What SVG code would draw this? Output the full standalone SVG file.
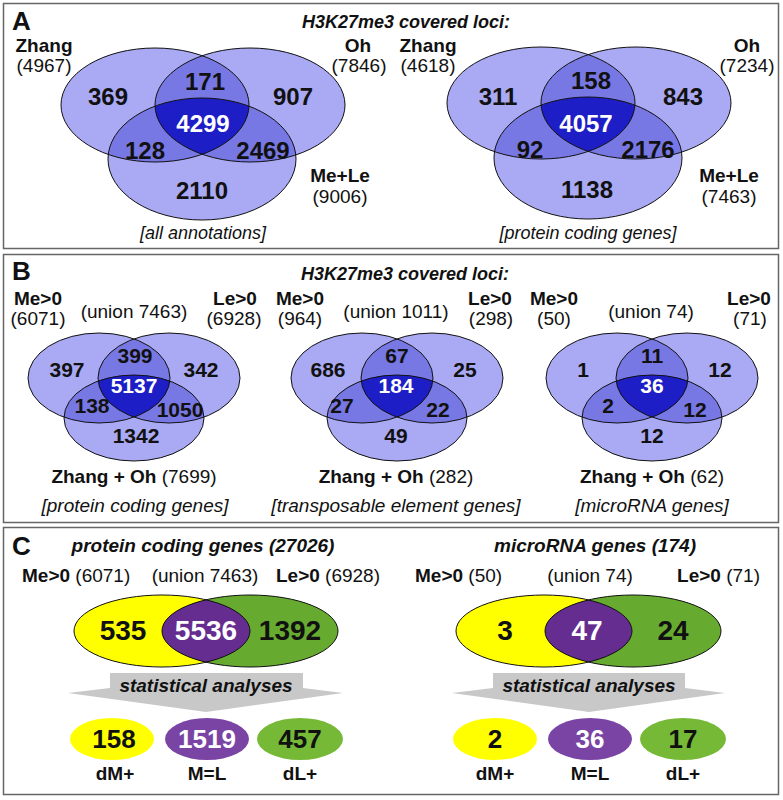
<svg xmlns="http://www.w3.org/2000/svg" width="783" height="800" viewBox="0 0 783 800">
<style>
text{font-family:"Liberation Sans",Arial,sans-serif;fill:#111}
.pl{font-size:26px;font-weight:bold}
.hd{font-size:18px;font-weight:bold;font-style:italic}
.lb{font-size:19px;font-weight:bold}
.rg{font-size:19px;font-weight:normal}
.it{font-size:18px;font-style:italic}
.n24{font-size:24px;font-weight:bold;text-anchor:middle}
.n21{font-size:21px;font-weight:bold;text-anchor:middle}
.n28{font-size:28px;font-weight:bold;text-anchor:middle}
.n26{font-size:26px;font-weight:bold;text-anchor:middle}
.m{text-anchor:middle}
.e{text-anchor:end}
.w{fill:#fff}
.s1{fill:#aaaaf4}
.s2{fill:#7878e4}
.s3{fill:#1e1ec6}
.ol{fill:none;stroke:#111;stroke-width:1}
.frame{fill:#fff;stroke:#666;stroke-width:1.5}
.arrow{fill:#c8c8c8}
</style>
<defs>
<ellipse id="a1z" cx="155" cy="105" rx="94" ry="57"/>
<ellipse id="a1o" cx="250" cy="105" rx="95" ry="57"/>
<ellipse id="a1m" cx="202" cy="159" rx="94" ry="61"/>
<ellipse id="a2z" cx="541" cy="103" rx="94" ry="56"/>
<ellipse id="a2o" cx="636" cy="103" rx="95" ry="56"/>
<ellipse id="a2m" cx="588" cy="158" rx="94" ry="61"/>
<ellipse id="b1m" cx="99" cy="378" rx="71" ry="45"/>
<ellipse id="b1l" cx="169" cy="378" rx="71" ry="45"/>
<ellipse id="b1z" cx="134" cy="418" rx="70" ry="43"/>
<ellipse id="b2m" cx="362" cy="378" rx="71" ry="45"/>
<ellipse id="b2l" cx="432" cy="378" rx="71" ry="45"/>
<ellipse id="b2z" cx="397" cy="418" rx="70" ry="43"/>
<ellipse id="b3m" cx="617" cy="378" rx="71" ry="45"/>
<ellipse id="b3l" cx="687" cy="378" rx="71" ry="45"/>
<ellipse id="b3z" cx="652" cy="418" rx="70" ry="43"/>
<ellipse id="c1y" cx="162" cy="631" rx="88" ry="36"/>
<ellipse id="c1g" cx="250" cy="631" rx="88" ry="36"/>
<ellipse id="c2y" cx="544" cy="631" rx="88" ry="36"/>
<ellipse id="c2g" cx="633" cy="631" rx="88" ry="36"/>
<clipPath id="k_a1z"><use href="#a1z"/></clipPath>
<clipPath id="k_a1o"><use href="#a1o"/></clipPath>
<clipPath id="k_a2z"><use href="#a2z"/></clipPath>
<clipPath id="k_a2o"><use href="#a2o"/></clipPath>
<clipPath id="k_b1m"><use href="#b1m"/></clipPath>
<clipPath id="k_b1l"><use href="#b1l"/></clipPath>
<clipPath id="k_b2m"><use href="#b2m"/></clipPath>
<clipPath id="k_b2l"><use href="#b2l"/></clipPath>
<clipPath id="k_b3m"><use href="#b3m"/></clipPath>
<clipPath id="k_b3l"><use href="#b3l"/></clipPath>
<clipPath id="k_c1y"><use href="#c1y"/></clipPath>
<clipPath id="k_c2y"><use href="#c2y"/></clipPath>
</defs>

<rect x="0" y="0" width="783" height="800" fill="#fff"/>
<g id="frames">
<rect class="frame" x="3.5" y="3.5" width="775" height="245"/>
<rect class="frame" x="3.5" y="254.5" width="775" height="268"/>
<rect class="frame" x="3.5" y="527.5" width="775" height="267"/>
</g>

<!-- Panel A -->
<g id="panelA-labels">
<text class="pl" x="12" y="30">A</text>
<text class="hd m" x="406" y="28">H3K27me3 covered loci:</text>
</g>
<g id="vennA1">
<use href="#a1z" class="s1"/><use href="#a1o" class="s1"/><use href="#a1m" class="s1"/>
<use href="#a1o" class="s2" clip-path="url(#k_a1z)"/>
<use href="#a1m" class="s2" clip-path="url(#k_a1z)"/>
<use href="#a1m" class="s2" clip-path="url(#k_a1o)"/>
<g clip-path="url(#k_a1z)"><use href="#a1m" class="s3" clip-path="url(#k_a1o)"/></g>
<use href="#a1z" class="ol"/><use href="#a1o" class="ol"/><use href="#a1m" class="ol"/>
<text class="n24" x="108" y="105">369</text>
<text class="n24" x="205" y="90">171</text>
<text class="n24" x="293" y="105">907</text>
<text class="n24 w" x="203" y="132">4299</text>
<text class="n24" x="145" y="159">128</text>
<text class="n24" x="263" y="159">2469</text>
<text class="n24" x="202" y="199">2110</text>
<text class="lb m" x="44" y="52">Zhang</text>
<text class="rg m" x="44" y="72">(4967)</text>
<text class="lb m" x="358" y="52">Oh</text>
<text class="rg m" x="359" y="72">(7846)</text>
<text class="lb m" x="340" y="182">Me+Le</text>
<text class="rg m" x="340" y="203">(9006)</text>
<text class="it m" x="203" y="239">[all annotations]</text>
</g>
<g id="vennA2">
<use href="#a2z" class="s1"/><use href="#a2o" class="s1"/><use href="#a2m" class="s1"/>
<use href="#a2o" class="s2" clip-path="url(#k_a2z)"/>
<use href="#a2m" class="s2" clip-path="url(#k_a2z)"/>
<use href="#a2m" class="s2" clip-path="url(#k_a2o)"/>
<g clip-path="url(#k_a2z)"><use href="#a2m" class="s3" clip-path="url(#k_a2o)"/></g>
<use href="#a2z" class="ol"/><use href="#a2o" class="ol"/><use href="#a2m" class="ol"/>
<text class="n24" x="498" y="105">311</text>
<text class="n24" x="591" y="89">158</text>
<text class="n24" x="683" y="105">843</text>
<text class="n24 w" x="586" y="132">4057</text>
<text class="n24" x="530" y="158">92</text>
<text class="n24" x="648" y="158">2176</text>
<text class="n24" x="587" y="198">1138</text>
<text class="lb m" x="428" y="52">Zhang</text>
<text class="rg m" x="428" y="72">(4618)</text>
<text class="lb m" x="747" y="52">Oh</text>
<text class="rg m" x="747" y="72">(7234)</text>
<text class="lb m" x="729" y="182">Me+Le</text>
<text class="rg m" x="729" y="203">(7463)</text>
<text class="it m" x="588" y="239">[protein coding genes]</text>
</g>

<!-- Panel B -->
<g id="panelB-labels">
<text class="pl" x="12" y="280">B</text>
<text class="hd m" x="405" y="280">H3K27me3 covered loci:</text>
</g>
<g id="vennB1">
<use href="#b1m" class="s1"/><use href="#b1l" class="s1"/><use href="#b1z" class="s1"/>
<use href="#b1l" class="s2" clip-path="url(#k_b1m)"/>
<use href="#b1z" class="s2" clip-path="url(#k_b1m)"/>
<use href="#b1z" class="s2" clip-path="url(#k_b1l)"/>
<g clip-path="url(#k_b1m)"><use href="#b1z" class="s3" clip-path="url(#k_b1l)"/></g>
<use href="#b1m" class="ol"/><use href="#b1l" class="ol"/><use href="#b1z" class="ol"/>
<text class="n21" x="67" y="377">397</text>
<text class="n21" x="135" y="363">399</text>
<text class="n21" x="201" y="377">342</text>
<text class="n21 w" x="134" y="393">5137</text>
<text class="n21" x="92" y="413">138</text>
<text class="n21" x="180" y="417">1050</text>
<text class="n21" x="136" y="443">1342</text>
<text class="lb m" x="38" y="305">Me&gt;0</text>
<text class="rg m" x="38" y="325">(6071)</text>
<text class="rg m" x="134" y="318">(union 7463)</text>
<text class="lb m" x="235" y="305">Le&gt;0</text>
<text class="rg m" x="234" y="325">(6928)</text>
<text class="m" x="134" y="483" font-size="19"><tspan font-weight="bold">Zhang + Oh</tspan> (7699)</text>
<text class="m" x="135" y="512" font-size="19" font-style="italic">[protein coding genes]</text>
</g>
<g id="vennB2">
<use href="#b2m" class="s1"/><use href="#b2l" class="s1"/><use href="#b2z" class="s1"/>
<use href="#b2l" class="s2" clip-path="url(#k_b2m)"/>
<use href="#b2z" class="s2" clip-path="url(#k_b2m)"/>
<use href="#b2z" class="s2" clip-path="url(#k_b2l)"/>
<g clip-path="url(#k_b2m)"><use href="#b2z" class="s3" clip-path="url(#k_b2l)"/></g>
<use href="#b2m" class="ol"/><use href="#b2l" class="ol"/><use href="#b2z" class="ol"/>
<text class="n21" x="328" y="377">686</text>
<text class="n21" x="397" y="363">67</text>
<text class="n21" x="465" y="377">25</text>
<text class="n21 w" x="396" y="393">184</text>
<text class="n21" x="342" y="413">27</text>
<text class="n21" x="438" y="417">22</text>
<text class="n21" x="396" y="443">49</text>
<text class="lb m" x="300" y="305">Me&gt;0</text>
<text class="rg m" x="300" y="325">(964)</text>
<text class="rg m" x="396" y="318">(union 1011)</text>
<text class="lb m" x="490" y="305">Le&gt;0</text>
<text class="rg m" x="491" y="325">(298)</text>
<text class="m" x="396" y="483" font-size="19"><tspan font-weight="bold">Zhang + Oh</tspan> (282)</text>
<text class="m" x="396" y="512" font-size="19" font-style="italic">[transposable element genes]</text>
</g>
<g id="vennB3">
<use href="#b3m" class="s1"/><use href="#b3l" class="s1"/><use href="#b3z" class="s1"/>
<use href="#b3l" class="s2" clip-path="url(#k_b3m)"/>
<use href="#b3z" class="s2" clip-path="url(#k_b3m)"/>
<use href="#b3z" class="s2" clip-path="url(#k_b3l)"/>
<g clip-path="url(#k_b3m)"><use href="#b3z" class="s3" clip-path="url(#k_b3l)"/></g>
<use href="#b3m" class="ol"/><use href="#b3l" class="ol"/><use href="#b3z" class="ol"/>
<text class="n21" x="583" y="377">1</text>
<text class="n21" x="652" y="363">11</text>
<text class="n21" x="720" y="377">12</text>
<text class="n21 w" x="652" y="393">36</text>
<text class="n21" x="608" y="413">2</text>
<text class="n21" x="695" y="417">12</text>
<text class="n21" x="652" y="443">12</text>
<text class="lb m" x="554" y="305">Me&gt;0</text>
<text class="rg m" x="554" y="325">(50)</text>
<text class="rg m" x="651" y="318">(union 74)</text>
<text class="lb m" x="749" y="305">Le&gt;0</text>
<text class="rg m" x="750" y="325">(71)</text>
<text class="m" x="652" y="483" font-size="19"><tspan font-weight="bold">Zhang + Oh</tspan> (62)</text>
<text class="m" x="652" y="512" font-size="19" font-style="italic">[microRNA genes]</text>
</g>

<!-- Panel C -->
<g id="panelC-labels">
<text class="pl" x="12" y="555">C</text>
</g>
<g id="vennC1">
<text class="m" x="203" y="552" font-size="19" font-weight="bold" font-style="italic">protein coding genes (27026)</text>
<text x="22" y="582" font-size="19"><tspan font-weight="bold">Me&gt;0</tspan> (6071)</text>
<text class="rg m" x="205" y="582">(union 7463)</text>
<text class="e" x="380" y="582" font-size="19"><tspan font-weight="bold">Le&gt;0</tspan> (6928)</text>
<use href="#c1y" fill="#ffff00"/>
<use href="#c1g" fill="#66ab2f"/>
<use href="#c1g" fill="#662d91" clip-path="url(#k_c1y)"/>
<use href="#c1y" class="ol"/><use href="#c1g" class="ol"/>
<text class="n28" x="123" y="640">535</text>
<text class="n28 w" x="206" y="640">5536</text>
<text class="n28" x="290" y="640">1392</text>
</g>
<g id="arrowC1">
<polygon class="arrow" points="110,673 303,673 303,688 343,693 206,712 68,693 110,688"/>
<text class="m" x="206" y="692" font-size="19" font-weight="bold" font-style="italic">statistical analyses</text>
</g>
<g id="resultC1">
<ellipse cx="112" cy="739" rx="42" ry="21" fill="#ffff00"/>
<ellipse cx="207" cy="739" rx="42" ry="21" fill="#7a44a4"/>
<ellipse cx="300" cy="739" rx="43" ry="21" fill="#76b936"/>
<text class="n26" x="114" y="748">158</text>
<text class="n26 w" x="207" y="748">1519</text>
<text class="n26" x="300" y="748">457</text>
<text class="lb m" x="115" y="780" font-size="18">dM+</text>
<text class="lb m" x="207" y="780" font-size="18">M=L</text>
<text class="lb m" x="300" y="780" font-size="18">dL+</text>
</g>

<g id="vennC2">
<text class="m" x="595" y="552" font-size="19" font-weight="bold" font-style="italic">microRNA genes (174)</text>
<text x="415" y="582" font-size="19"><tspan font-weight="bold">Me&gt;0</tspan> (50)</text>
<text class="rg m" x="590" y="582">(union 74)</text>
<text class="e" x="760" y="582" font-size="19"><tspan font-weight="bold">Le&gt;0</tspan> (71)</text>
<use href="#c2y" fill="#ffff00"/>
<use href="#c2g" fill="#66ab2f"/>
<use href="#c2g" fill="#662d91" clip-path="url(#k_c2y)"/>
<use href="#c2y" class="ol"/><use href="#c2g" class="ol"/>
<text class="n28" x="505" y="640">3</text>
<text class="n28 w" x="587" y="640">47</text>
<text class="n28" x="673" y="640">24</text>
</g>
<g id="arrowC2">
<polygon class="arrow" points="493,673 685,673 685,688 725,693 589,712 452,693 493,688"/>
<text class="m" x="589" y="692" font-size="19" font-weight="bold" font-style="italic">statistical analyses</text>
</g>
<g id="resultC2">
<ellipse cx="495" cy="739" rx="42" ry="21" fill="#ffff00"/>
<ellipse cx="590" cy="739" rx="42" ry="21" fill="#7a44a4"/>
<ellipse cx="683" cy="739" rx="43" ry="21" fill="#76b936"/>
<text class="n26" x="495" y="748">2</text>
<text class="n26 w" x="590" y="748">36</text>
<text class="n26" x="683" y="748">17</text>
<text class="lb m" x="495" y="780" font-size="18">dM+</text>
<text class="lb m" x="590" y="780" font-size="18">M=L</text>
<text class="lb m" x="683" y="780" font-size="18">dL+</text>
</g>
<g id="connectors"/>
</svg>
